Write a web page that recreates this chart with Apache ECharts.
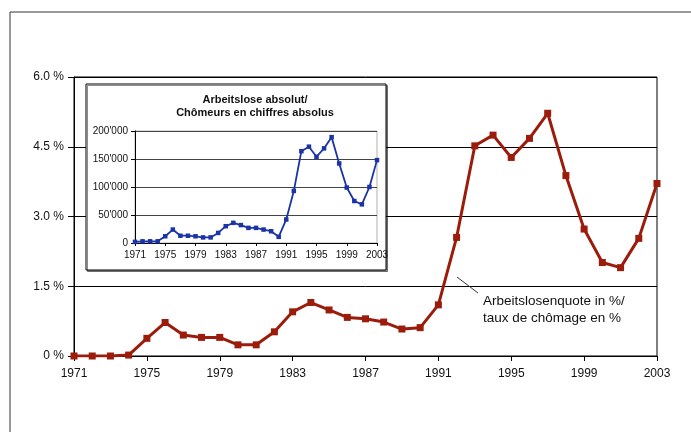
<!DOCTYPE html>
<html>
<head>
<meta charset="utf-8">
<script src="https://cdn.jsdelivr.net/npm/echarts@6/dist/echarts.min.js"></script>
<style>
  html, body { margin: 0; padding: 0; background: #fff; }
  #chart { width: 691px; height: 432px; }
</style>
</head>
<body>
<div id="chart"></div>
<script>
// years shared by both charts
const years = [];
for (let y = 1971; y <= 2003; y++) years.push(String(y));

// unemployment rate in % (main chart)
const ratePct = [
  0, 0, 0, 0.02, 0.38, 0.72, 0.45, 0.40, 0.40, 0.24,
  0.24, 0.52, 0.95, 1.15, 0.99, 0.83, 0.80, 0.73, 0.58, 0.61,
  1.10, 2.55, 4.52, 4.75, 4.27, 4.68, 5.22, 3.88, 2.73, 2.01,
  1.90, 2.53, 3.71
];

// unemployed, absolute numbers (inset chart)
const absolute = [
  2000, 3000, 3000, 3000, 12000, 24000, 13000, 13000, 12000, 10000,
  10000, 18000, 30000, 36000, 32000, 27000, 27000, 24000, 21000, 11000,
  42000, 93000, 164000, 172000, 154000, 169000, 189000, 142000, 99000, 75000,
  69000, 100000, 148000
];

const insetTitle = ["Arbeitslose absolut/", "Chômeurs en chiffres absolus"];
const seriesLabel = ["Arbeitslosenquote in %/", "taux de chômage en %"];

const FONT = "Liberation Sans";
const TXT = "#111";

const chart = echarts.init(document.getElementById("chart"));

chart.setOption({
  animation: false,
  backgroundColor: "#fff",
  textStyle: { fontFamily: FONT },
  grid: [
    { left: 74, right: 34, top: 77, bottom: 76, show: true, borderColor: "#000", borderWidth: 1 },
    { left: 135, top: 131, width: 242, height: 112, show: true, borderColor: "#b0b0b0",
      borderWidth: 1, zlevel: 1, z: 5 }
  ],
  xAxis: [
    {
      type: "category", gridIndex: 0, data: years, boundaryGap: false,
      axisLine: { lineStyle: { color: "#000", width: 1 } },
      axisTick: { interval: 3, length: 5, lineStyle: { color: "#000" } },
      axisLabel: { interval: 3, color: TXT, fontSize: 12, margin: 12 }
    },
    {
      type: "category", gridIndex: 1, data: years, boundaryGap: false, zlevel: 1, z: 6,
      axisLine: { lineStyle: { color: "#000", width: 1 } },
      axisTick: { interval: 3, length: 3, lineStyle: { color: "#000" } },
      axisLabel: { interval: 3, color: TXT, fontSize: 10, margin: 7 }
    }
  ],
  yAxis: [
    {
      type: "value", gridIndex: 0, min: 0, max: 6, interval: 1.5,
      axisLine: { show: true, lineStyle: { color: "#000" } },
      axisTick: { show: true, length: 6, lineStyle: { color: "#000" } },
      axisLabel: {
        color: TXT, fontSize: 12, margin: 10,
        formatter: v => (v === 0 ? "0 %" : v.toFixed(1) + " %")
      },
      splitLine: { lineStyle: { color: "#000", width: 1 } }
    },
    {
      type: "value", gridIndex: 1, min: 0, max: 200000, interval: 50000, zlevel: 1, z: 6,
      axisLine: { show: true, lineStyle: { color: "#000" } },
      axisTick: { show: true, length: 4, lineStyle: { color: "#000" } },
      axisLabel: {
        color: TXT, fontSize: 10, margin: 7,
        formatter: v => (v === 0 ? "0" : (v / 1000) + "'000")
      },
      splitLine: { lineStyle: { color: "#444", width: 1 } }
    }
  ],
  series: [
    {
      type: "line", xAxisIndex: 0, yAxisIndex: 0, data: ratePct,
      symbol: "rect", symbolSize: 7, showAllSymbol: true,
      lineStyle: { color: "#9c1c0c", width: 3 },
      itemStyle: { color: "#9c1c0c" }
    },
    {
      type: "line", xAxisIndex: 1, yAxisIndex: 1, data: absolute, zlevel: 1, z: 10,
      symbol: "rect", symbolSize: 4.5, showAllSymbol: true,
      lineStyle: { color: "#1a33a6", width: 1.8 },
      itemStyle: { color: "#1a33a6" }
    }
  ],
  graphic: [
    // outer chart frame
    { type: "rect", shape: { x: 10, y: 12, width: 700, height: 440 },
      style: { fill: "none", stroke: "#333", lineWidth: 1 }, z: 0 },
    // inset box
    { type: "rect", zlevel: 1, z: 0, shape: { x: 86, y: 84, width: 300, height: 186 },
      style: { fill: "#fff", stroke: "#000", lineWidth: 1,
               shadowColor: "rgba(0,0,0,0.45)", shadowOffsetX: 1.5, shadowOffsetY: 1.5 } },
    { type: "text", zlevel: 1, z: 20, x: 255, y: 100,
      style: { text: insetTitle[0], fill: TXT, font: "bold 11px " + FONT,
               textAlign: "center", textVerticalAlign: "middle" } },
    { type: "text", zlevel: 1, z: 20, x: 255, y: 113,
      style: { text: insetTitle[1], fill: TXT, font: "bold 11px " + FONT,
               textAlign: "center", textVerticalAlign: "middle" } },
    // leader line and series annotation
    { type: "line", shape: { x1: 457, y1: 277, x2: 478, y2: 293 },
      style: { stroke: "#333", lineWidth: 1 }, z: 10 },
    { type: "text", x: 483, y: 301,
      style: { text: seriesLabel[0], fill: TXT, font: "13.5px " + FONT, textVerticalAlign: "middle" }, z: 10 },
    { type: "text", x: 483, y: 318,
      style: { text: seriesLabel[1], fill: TXT, font: "13.5px " + FONT, textVerticalAlign: "middle" }, z: 10 }
  ]
});
</script>
</body>
</html>
